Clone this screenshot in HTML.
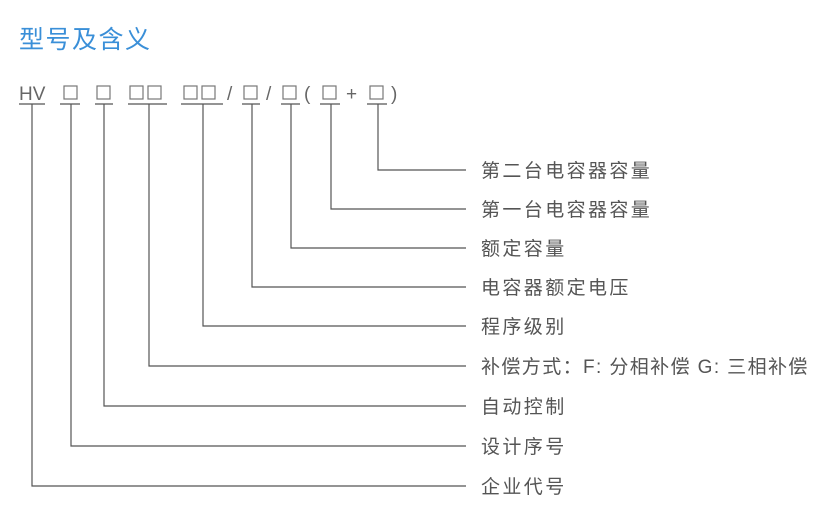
<!DOCTYPE html>
<html><head><meta charset="utf-8"><style>
html,body{margin:0;padding:0;background:#fff;width:839px;height:520px;overflow:hidden}
svg{display:block}
.t{font-family:"Liberation Sans","Noto Sans CJK SC",sans-serif;fill:#555;font-size:19px;letter-spacing:2.4px}
.c{font-family:"Liberation Sans","Noto Sans CJK SC",sans-serif;fill:#666;font-size:19px}
</style></head><body>
<svg width="839" height="520" viewBox="0 0 839 520">
<text x="19" y="48" font-family="Liberation Sans,Noto Sans CJK SC,sans-serif" font-size="25" fill="#3a8fd8" letter-spacing="1.5">型号及含义</text>
<g class="c">
<text x="19" y="100">HV</text>
<text x="227" y="100">/</text>
<text x="266" y="100">/</text>
<text x="304" y="100">(</text>
<text x="346" y="100">+</text>
<text x="391" y="100">)</text>
</g>
<g fill="none" stroke="#777" stroke-width="1.2">
<rect x="64" y="86" width="13" height="13"/>
<rect x="97" y="86" width="13" height="13"/>
<rect x="130" y="86" width="13" height="13"/>
<rect x="148" y="86" width="13" height="13"/>
<rect x="184" y="86" width="13" height="13"/>
<rect x="202" y="86" width="13" height="13"/>
<rect x="244" y="86" width="13" height="13"/>
<rect x="283" y="86" width="13" height="13"/>
<rect x="323" y="86" width="13" height="13"/>
<rect x="370" y="86" width="13" height="13"/>
</g>
<g stroke="#555" stroke-width="1.2" fill="none">
<line x1="19" y1="104" x2="45" y2="104"/>
<line x1="60" y1="104" x2="80" y2="104"/>
<line x1="95" y1="104" x2="113" y2="104"/>
<line x1="128" y1="104" x2="167" y2="104"/>
<line x1="181" y1="104" x2="223" y2="104"/>
<line x1="242" y1="104" x2="260" y2="104"/>
<line x1="281" y1="104" x2="300" y2="104"/>
<line x1="320" y1="104" x2="340" y2="104"/>
<line x1="367" y1="104" x2="387" y2="104"/>
<polyline points="378,104 378,170 466,170"/>
<polyline points="331,104 331,209 466,209"/>
<polyline points="291,104 291,248 466,248"/>
<polyline points="252,104 252,287 466,287"/>
<polyline points="203,104 203,326 466,326"/>
<polyline points="149,104 149,366 466,366"/>
<polyline points="104,104 104,406 466,406"/>
<polyline points="71,104 71,446 466,446"/>
<polyline points="32,104 32,486 466,486"/>
</g>
<g class="t">
<text x="481" y="177">第二台电容器容量</text>
<text x="481" y="216">第一台电容器容量</text>
<text x="481" y="255">额定容量</text>
<text x="481" y="294">电容器额定电压</text>
<text x="481" y="333">程序级别</text>
<text x="481" y="373" letter-spacing="1.4">补偿方式：F: 分相补偿 G: 三相补偿</text>
<text x="481" y="413">自动控制</text>
<text x="481" y="453">设计序号</text>
<text x="481" y="493">企业代号</text>
</g>
</svg>
</body></html>
